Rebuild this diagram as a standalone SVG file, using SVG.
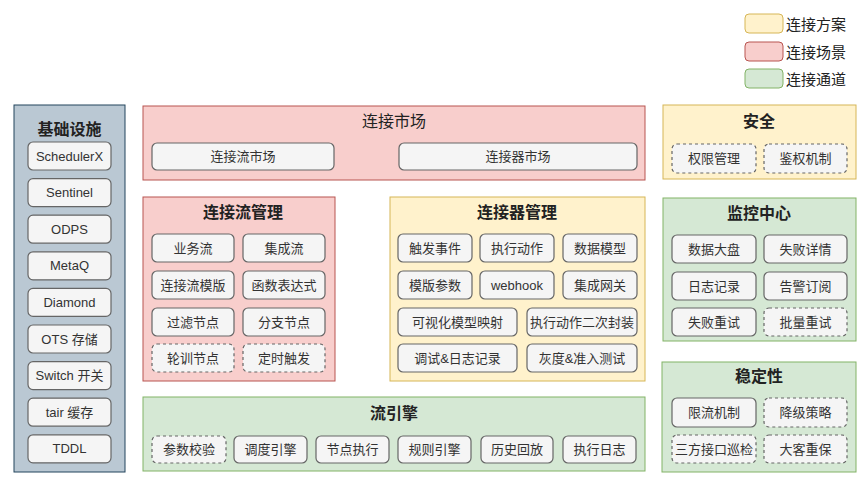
<svg xmlns="http://www.w3.org/2000/svg" width="865" height="486" viewBox="0 0 865 486">
<style>
text{font-family:"Liberation Sans","Noto Sans CJK SC",sans-serif;fill:#333;text-anchor:middle;dominant-baseline:central}
.pink{fill:#f8cecc;stroke:#b85450;stroke-width:1}
.yellow{fill:#fff2cc;stroke:#d6b656;stroke-width:1}
.green{fill:#d5e8d4;stroke:#82b366;stroke-width:1}
.blue{fill:#bac8d3;stroke:#23445d;stroke-width:1}
.box{fill:#f5f5f5;stroke:#666;stroke-width:1.2}
.dash{fill:#f5f5f5;stroke:#666;stroke-width:1.2;stroke-dasharray:3 3}
.t{font-size:13px}
.title{font-size:16px;font-weight:bold;fill:#222}
.lg{font-size:15px;text-anchor:start;fill:#222}
</style>
<rect width="865" height="486" fill="#fff"/>
<g id="legend">
<rect x="745" y="14" width="38" height="19" rx="4" class="yellow"/>
<text x="786" y="24" class="lg">连接方案</text>
<rect x="745" y="42" width="38" height="19" rx="4" class="pink"/>
<text x="786" y="52" class="lg">连接场景</text>
<rect x="745" y="69" width="38" height="19" rx="4" class="green"/>
<text x="786" y="79" class="lg">连接通道</text>
</g>
<g id="infra">
<rect x="14" y="105" width="111" height="367" class="blue"/>
<text x="69.5" y="129" class="title">基础设施</text>
<rect x="28" y="142" width="83" height="28" rx="5" class="box"/><text x="69.5" y="156" class="t">SchedulerX</text>
<rect x="28" y="178.6" width="83" height="28" rx="5" class="box"/><text x="69.5" y="192.6" class="t">Sentinel</text>
<rect x="28" y="215.2" width="83" height="28" rx="5" class="box"/><text x="69.5" y="229.2" class="t">ODPS</text>
<rect x="28" y="251.8" width="83" height="28" rx="5" class="box"/><text x="69.5" y="265.8" class="t">MetaQ</text>
<rect x="28" y="288.4" width="83" height="28" rx="5" class="box"/><text x="69.5" y="302.4" class="t">Diamond</text>
<rect x="28" y="325" width="83" height="28" rx="5" class="box"/><text x="69.5" y="339" class="t">OTS 存储</text>
<rect x="28" y="361.6" width="83" height="28" rx="5" class="box"/><text x="69.5" y="375.6" class="t">Switch 开关</text>
<rect x="28" y="398.2" width="83" height="28" rx="5" class="box"/><text x="69.5" y="412.2" class="t">tair 缓存</text>
<rect x="28" y="434.8" width="83" height="28" rx="5" class="box"/><text x="69.5" y="448.8" class="t">TDDL</text>
</g>
<g id="market">
<rect x="143" y="106" width="502" height="74" class="pink"/>
<text x="394" y="121" class="title" style="font-weight:normal">连接市场</text>
<rect x="152" y="143" width="182" height="27" rx="5" class="box"/><text x="243" y="156.5" class="t">连接流市场</text>
<rect x="399" y="143" width="238" height="27" rx="5" class="box"/><text x="518" y="156.5" class="t">连接器市场</text>
</g>
<g id="flow-mgmt">
<rect x="143" y="197" width="192" height="184" class="pink"/>
<text x="243" y="212" class="title">连接流管理</text>
<rect x="152" y="234" width="82" height="28" rx="5" class="box"/><text x="193" y="248" class="t">业务流</text>
<rect x="243" y="234" width="82" height="28" rx="5" class="box"/><text x="284" y="248" class="t">集成流</text>
<rect x="152" y="271" width="82" height="28" rx="5" class="box"/><text x="193" y="285" class="t">连接流模版</text>
<rect x="243" y="271" width="82" height="28" rx="5" class="box"/><text x="284" y="285" class="t">函数表达式</text>
<rect x="152" y="308" width="82" height="28" rx="5" class="box"/><text x="193" y="322" class="t">过滤节点</text>
<rect x="243" y="308" width="82" height="28" rx="5" class="box"/><text x="284" y="322" class="t">分支节点</text>
<rect x="152" y="344" width="82" height="28" rx="5" class="dash"/><text x="193" y="358" class="t">轮训节点</text>
<rect x="243" y="344" width="82" height="28" rx="5" class="dash"/><text x="284" y="358" class="t">定时触发</text>
</g>
<g id="connector-mgmt">
<rect x="390" y="197" width="255" height="184" class="yellow"/>
<text x="517" y="212" class="title">连接器管理</text>
<rect x="398" y="234" width="74" height="28" rx="5" class="box"/><text x="435" y="248" class="t">触发事件</text>
<rect x="480" y="234" width="74" height="28" rx="5" class="box"/><text x="517" y="248" class="t">执行动作</text>
<rect x="563" y="234" width="74" height="28" rx="5" class="box"/><text x="600" y="248" class="t">数据模型</text>
<rect x="398" y="271" width="74" height="28" rx="5" class="box"/><text x="435" y="285" class="t">模版参数</text>
<rect x="480" y="271" width="74" height="28" rx="5" class="box"/><text x="517" y="285" class="t">webhook</text>
<rect x="563" y="271" width="74" height="28" rx="5" class="box"/><text x="600" y="285" class="t">集成网关</text>
<rect x="398" y="308" width="119" height="28" rx="5" class="box"/><text x="457.5" y="322" class="t">可视化模型映射</text>
<rect x="527" y="308" width="110" height="28" rx="5" class="box"/><text x="582" y="322" class="t">执行动作二次封装</text>
<rect x="398" y="344" width="119" height="28" rx="5" class="box"/><text x="457.5" y="358" class="t">调试&amp;日志记录</text>
<rect x="527" y="344" width="110" height="28" rx="5" class="box"/><text x="582" y="358" class="t">灰度&amp;准入测试</text>
</g>
<g id="security">
<rect x="663" y="105" width="193" height="74" class="yellow"/>
<text x="759" y="121" class="title">安全</text>
<rect x="672" y="144" width="84" height="29" rx="5" class="dash"/><text x="714" y="158.5" class="t">权限管理</text>
<rect x="764" y="144" width="83" height="29" rx="5" class="dash"/><text x="805.5" y="158.5" class="t">鉴权机制</text>
</g>
<g id="monitor">
<rect x="663" y="198" width="193" height="143" class="green"/>
<text x="759" y="213" class="title">监控中心</text>
<rect x="672" y="235" width="84" height="28" rx="5" class="box"/><text x="714" y="249" class="t">数据大盘</text>
<rect x="764" y="235" width="83" height="28" rx="5" class="box"/><text x="805.5" y="249" class="t">失败详情</text>
<rect x="672" y="272" width="84" height="28" rx="5" class="box"/><text x="714" y="286" class="t">日志记录</text>
<rect x="764" y="272" width="83" height="28" rx="5" class="box"/><text x="805.5" y="286" class="t">告警订阅</text>
<rect x="672" y="308" width="84" height="28" rx="5" class="box"/><text x="714" y="322" class="t">失败重试</text>
<rect x="764" y="308" width="83" height="28" rx="5" class="dash"/><text x="805.5" y="322" class="t">批量重试</text>
</g>
<g id="stability">
<rect x="662" y="362" width="194" height="110" class="green"/>
<text x="759" y="376" class="title">稳定性</text>
<rect x="672" y="398" width="84" height="29" rx="5" class="box"/><text x="714" y="412.5" class="t">限流机制</text>
<rect x="764" y="398" width="83" height="29" rx="5" class="dash"/><text x="805.5" y="412.5" class="t">降级策略</text>
<rect x="672" y="435" width="84" height="28" rx="5" class="dash"/><text x="714" y="449" class="t">三方接口巡检</text>
<rect x="764" y="435" width="83" height="28" rx="5" class="dash"/><text x="805.5" y="449" class="t">大客重保</text>
</g>
<g id="engine">
<rect x="143" y="397" width="502" height="74" class="green"/>
<text x="394" y="413" class="title">流引擎</text>
<rect x="152" y="436" width="74" height="27" rx="5" class="dash"/><text x="189" y="449.5" class="t">参数校验</text>
<rect x="234" y="436" width="73" height="27" rx="5" class="box"/><text x="270.5" y="449.5" class="t">调度引擎</text>
<rect x="316" y="436" width="73" height="27" rx="5" class="box"/><text x="352.5" y="449.5" class="t">节点执行</text>
<rect x="398" y="436" width="73" height="27" rx="5" class="box"/><text x="434.5" y="449.5" class="t">规则引擎</text>
<rect x="481" y="436" width="72" height="27" rx="5" class="box"/><text x="517" y="449.5" class="t">历史回放</text>
<rect x="563" y="436" width="73" height="27" rx="5" class="box"/><text x="599.5" y="449.5" class="t">执行日志</text>
</g>
<g id="connectors"></g>
</svg>
